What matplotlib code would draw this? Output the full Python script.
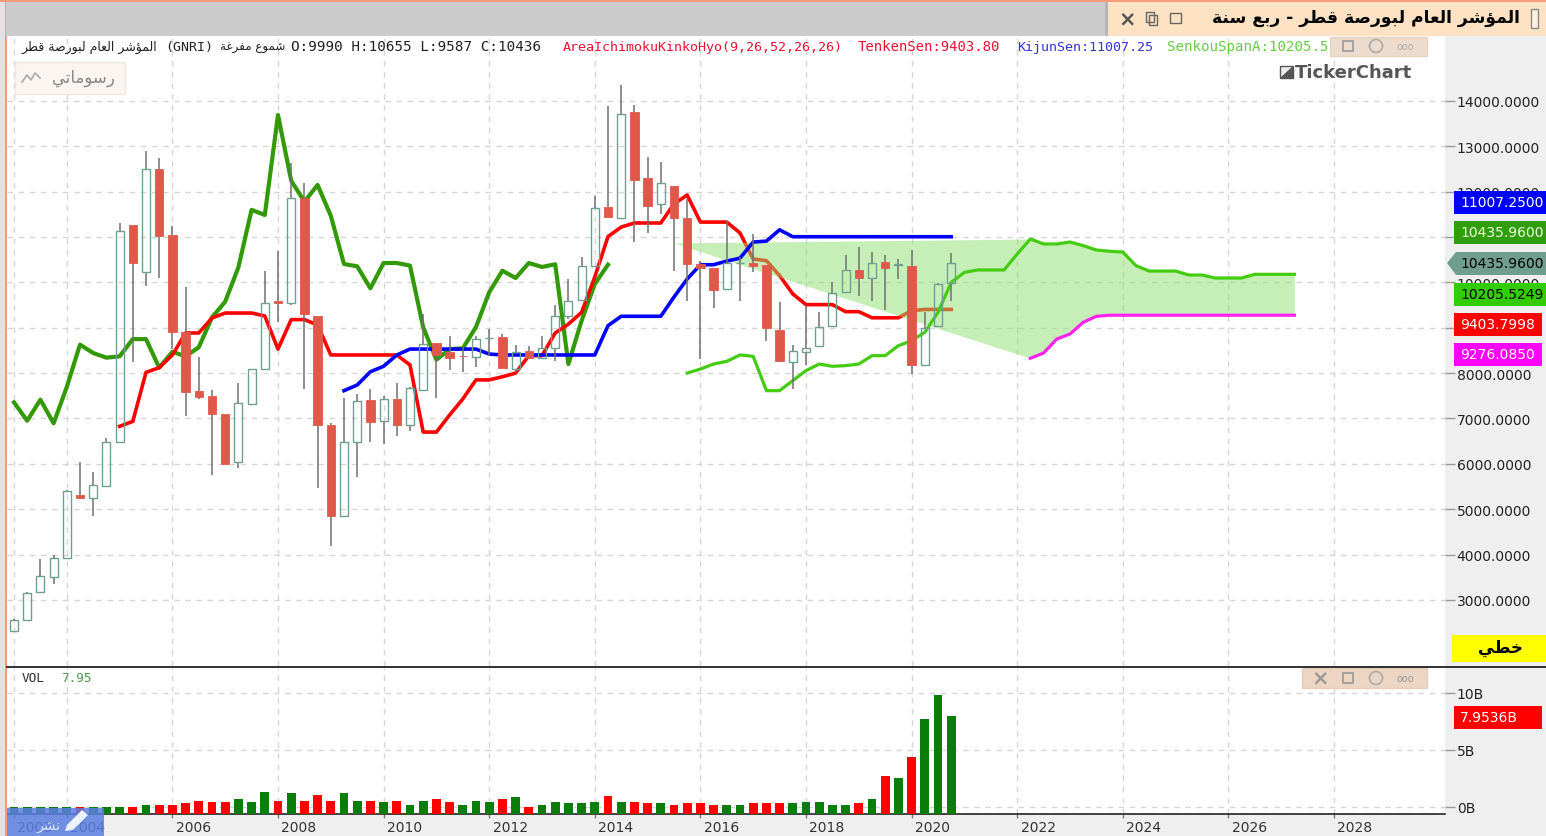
import numpy as np
import matplotlib
matplotlib.use('Agg')
import matplotlib.pyplot as plt
from matplotlib.patches import Rectangle, Circle, Polygon
from matplotlib.transforms import ScaledTranslation

W, H = 1546, 837

# quarterly candles, first one is Q1 2003
opens = [2316, 2560, 3180, 3510, 3925, 5312, 5240, 5510, 6480, 11272, 10236, 12500, 11045, 8913, 7600, 7500,
         7095, 6040, 7320, 8090, 9590, 9546, 11860, 9260, 6863, 4850, 6480, 7400, 6950, 7430, 6863, 7635,
         8660, 8465, 8380, 8355, 8780, 8790, 8090, 8487, 8330, 8555, 9260, 9610, 10370, 11670, 11430, 13757,
         12300, 11730, 12125, 11430, 10405, 10320, 9855, 10425, 10428, 10384, 8960, 8245, 8470, 8605, 9040,
         9790, 10270, 10100, 10450, 10390, 10370, 8180, 9045, 9990]
highs = [2570, 3170, 3900, 4000, 5430, 6040, 5820, 6570, 11310, 11272, 12904, 12743, 11250, 9900, 8360, 7635,
         7095, 7780, 8100, 10258, 10700, 12633, 12190, 9260, 6900, 7450, 7540, 7650, 7500, 7780, 7700, 9300,
         8660, 8825, 8570, 8825, 8970, 8860, 8620, 8605, 8825, 9510, 10075, 10560, 11910, 13890, 14350, 13910,
         12765, 12660, 12125, 11840, 10480, 10320, 11360, 10560, 11067, 10384, 9575, 8630, 9485, 9355, 10015,
         10600, 10775, 10680, 10600, 10515, 10715, 9345, 9980, 10655]
lows = [2300, 2550, 3170, 3350, 3920, 5240, 4850, 5500, 6480, 8245, 9928, 10090, 8530, 7060, 7430, 5760,
        5970, 5900, 7290, 8090, 9134, 9500, 7650, 5460, 4190, 4850, 5710, 6480, 6440, 6620, 6730, 7630,
        7450, 8075, 8020, 8130, 8380, 8110, 8020, 8320, 8320, 8270, 9200, 9600, 10360, 11440, 11430, 10890,
        11090, 11510, 10258, 9600, 8310, 9436, 9840, 9600, 10230, 8710, 8260, 7650, 8180, 8600, 9020,
        9780, 9707, 9600, 9400, 10075, 7980, 8160, 9040, 9587]
closes = [2560, 3155, 3530, 3925, 5400, 5246, 5540, 6480, 11133, 10428, 12500, 11030, 8913, 7590, 7480, 7095,
          5995, 7340, 8090, 9546, 9546, 11860, 9303, 6863, 4850, 6480, 7390, 6920, 7430, 6855, 7670, 8640,
          8400, 8340, 8375, 8750, 8785, 8120, 8470, 8330, 8555, 9260, 9590, 10370, 11640, 11450, 13713, 12258,
          11685, 12190, 11430, 10405, 10320, 9833, 10428, 10430, 10370, 8995, 8270, 8487, 8555, 9015, 9767,
          10270, 10095, 10428, 10325, 10395, 8180, 8995, 9965, 10436]

# ichimoku lines, each with the quarter it starts on
chikou_start = 0
chikou = [7355, 6950, 7414, 6893, 7694, 8627, 8443, 8340, 8370, 8750, 8750, 8120, 8470, 8370, 8570, 9230,
          9575, 10333, 11600, 11486, 13691, 12243, 11780, 12148, 11470, 10405, 10355, 9870, 10428, 10428,
          10370, 9010, 8296, 8530, 8546, 9016, 9782, 10258, 10097, 10428, 10340, 10400, 8200, 9156, 9965, 10390]
tenkan_start = 8
tenkan = [6827, 6935, 8017, 8120, 8400, 8885, 8885, 9215, 9325, 9325, 9325, 9260, 8530, 9180, 9180, 9060,
          8400, 8400, 8400, 8400, 8400, 8400, 8180, 6700, 6700, 7075, 7430, 7850, 7850, 7920, 8000, 8385,
          8385, 8885, 9080, 9340, 10120, 11010, 11220, 11310, 11310, 11310, 11730, 11927, 11330, 11330, 11330,
          11090, 10515, 10480, 10150, 9745, 9510, 9510, 9510, 9355, 9355, 9220, 9220, 9220, 9376, 9404, 9404, 9404]
kijun_start = 25
kijun = [7613, 7738, 8030, 8150, 8400, 8530, 8530, 8530, 8530, 8530, 8530, 8420, 8400, 8400, 8400, 8400,
         8400, 8400, 8400, 8400, 9046, 9253, 9253, 9253, 9253, 9678, 10075, 10390, 10390, 10470, 10535, 10890,
         10910, 11160, 11007, 11007, 11007, 11007, 11007, 11007, 11007, 11007, 11007, 11007, 11007, 11007, 11007]
span_a_start = 51
span_a = [8000, 8090, 8200, 8260, 8400, 8370, 7613, 7613, 7835, 8055, 8200, 8150, 8165, 8200, 8385, 8385,
          8605, 8715, 8900, 9340, 10000, 10222, 10274, 10274, 10274, 10626, 10957, 10847, 10847, 10890, 10810,
          10715, 10686, 10670, 10370, 10250, 10250, 10250, 10163, 10163, 10097, 10097, 10097, 10178, 10178,
          10178, 10178]
span_b_start = 77
span_b = [8327, 8443, 8752, 8862, 9120, 9253, 9276, 9276, 9276, 9276, 9276, 9276, 9276, 9276, 9276, 9276,
          9276, 9276, 9276, 9276, 9276]
# wedge of the cloud before the two spans are drawn
wedge_quarters = [50, 77]
wedge_upper = [10869, 10957]
wedge_lower = [10869, 8327]

# volume in billions
volume = [0, 0, 0, 0, 0, 0.03, 0, 0, 0.03, 0.03, 0.18, 0.18, 0.18, 0.32, 0.56, 0.41, 0.41, 0.70, 0.41, 1.35,
          0.56, 1.23, 0.56, 1.08, 0.56, 1.23, 0.56, 0.56, 0.41, 0.56, 0.18, 0.56, 0.70, 0.41, 0.18, 0.56, 0.41,
          0.70, 0.85, 0.03, 0.18, 0.41, 0.32, 0.32, 0.41, 0.96, 0.41, 0.41, 0.32, 0.32, 0.18, 0.32, 0.32, 0.18,
          0.18, 0.18, 0.32, 0.32, 0.32, 0.32, 0.41, 0.41, 0.18, 0.18, 0.32, 0.70, 2.69, 2.54, 4.42, 7.69, 9.82, 7.95]
vol_up = [1, 1, 1, 1, 1, 0, 1, 1, 1, 0, 1, 0, 0, 0, 0, 0, 0, 1, 1, 1, 0, 1, 0, 0, 0, 1, 1, 0, 1, 0, 1, 1, 0, 0,
          1, 1, 1, 0, 1, 0, 1, 1, 1, 1, 1, 0, 1, 0, 0, 1, 0, 0, 0, 0, 1, 1, 0, 0, 0, 1, 1, 1, 1, 1, 0, 1, 0, 1, 0,
          1, 1, 1]

year_ticks = [0, 4, 12, 20, 28, 36, 44, 52, 60, 68, 76, 84, 92, 100]
year_labels = ['2003', '2004', '2006', '2008', '2010', '2012', '2014', '2016', '2018', '2020', '2022', '2024',
               '2026', '2028']
price_ticks = [3000, 4000, 5000, 6000, 7000, 8000, 9000, 10000, 11000, 12000, 13000, 14000]
# 9000 and 11000 sit fully behind the value tags
price_labels = ['3000.0000', '4000.0000', '5000.0000', '6000.0000', '7000.0000', '8000.0000', '', '10000.0000', '',
                '12000.0000', '13000.0000', '14000.0000']
vol_ticks = [0, 5, 10]

# matplotlib has no arabic shaping, so pick the contextual forms by hand
FORMS = {'ا': (0xFE8D, 0xFE8E), 'ة': (0xFE93, 0xFE94), 'ر': (0xFEAD, 0xFEAE), 'و': (0xFEED, 0xFEEE),
         'ؤ': (0xFE85, 0xFE86), 'ب': (0xFE8F, 0xFE90, 0xFE91, 0xFE92), 'ت': (0xFE95, 0xFE96, 0xFE97, 0xFE98),
         'خ': (0xFEA5, 0xFEA6, 0xFEA7, 0xFEA8), 'س': (0xFEB1, 0xFEB2, 0xFEB3, 0xFEB4),
         'ش': (0xFEB5, 0xFEB6, 0xFEB7, 0xFEB8), 'ص': (0xFEB9, 0xFEBA, 0xFEBB, 0xFEBC),
         'ط': (0xFEC1, 0xFEC2, 0xFEC3, 0xFEC4), 'ع': (0xFEC9, 0xFECA, 0xFECB, 0xFECC),
         'غ': (0xFECD, 0xFECE, 0xFECF, 0xFED0), 'ف': (0xFED1, 0xFED2, 0xFED3, 0xFED4),
         'ق': (0xFED5, 0xFED6, 0xFED7, 0xFED8), 'ل': (0xFEDD, 0xFEDE, 0xFEDF, 0xFEE0),
         'م': (0xFEE1, 0xFEE2, 0xFEE3, 0xFEE4), 'ن': (0xFEE5, 0xFEE6, 0xFEE7, 0xFEE8),
         'ي': (0xFEF1, 0xFEF2, 0xFEF3, 0xFEF4)}


def arabic(text):
    out = []
    for k, ch in enumerate(text):
        if ch not in FORMS:
            out.append(ch)
            continue
        prev = text[k - 1] if k > 0 else ' '
        nxt = text[k + 1] if k + 1 < len(text) else ' '
        joins_prev = prev in FORMS and len(FORMS[prev]) == 4
        joins_next = nxt in FORMS and len(FORMS[ch]) == 4
        if joins_prev and joins_next:
            code = FORMS[ch][3]
        elif joins_next:
            code = FORMS[ch][2]
        elif joins_prev:
            code = FORMS[ch][1]
        else:
            code = FORMS[ch][0]
        out.append(chr(code))
    return ''.join(reversed(out))


def box(left, top, right, bottom):
    return [left / W, 1 - bottom / H, (right - left) / W, (bottom - top) / H]


def series_x(start, values):
    return np.arange(start, start + len(values))


GRID = dict(color='#d6d6d6', lw=1.0, dashes=(4, 4))

fig = plt.figure(figsize=(W / 100, H / 100), dpi=100, facecolor='#efefef')
ax = fig.add_axes(box(7, 37, 1445, 667))
vol = fig.add_axes(box(7, 669, 1445, 815))
for a in (ax, vol):
    a.set_xlim(-0.53, 108.41)
    a.set_xticks(year_ticks)
    a.set_axisbelow(True)
    a.grid(True, **GRID)
    a.yaxis.tick_right()
    for s in a.spines.values():
        s.set_visible(False)

# main pane
ax.set_ylim(1542, 15433)
ax.set_yticks(price_ticks)
ax.set_yticklabels(price_labels, fontsize=10, color='#222222')
ax.tick_params(axis='y', length=7, width=1, color='#999999', pad=1.5)
ax.tick_params(axis='x', length=0, labelbottom=False)

# only the tenkan line lies under the cloud tint
ax.plot(series_x(chikou_start, chikou), chikou, color='#339a07', lw=3.0, zorder=2, solid_joinstyle='round')
ax.plot(series_x(tenkan_start, tenkan), tenkan, color='#ff0000', lw=2.6, zorder=2, solid_joinstyle='round')
ax.plot(series_x(kijun_start, kijun), kijun, color='#0000ff', lw=2.6, zorder=3.5, solid_joinstyle='round')
ax.plot(series_x(span_a_start, span_a), span_a, color='#44cc11', lw=2.3, zorder=3.5)
ax.plot(series_x(span_b_start, span_b), span_b, color='#ff22ee', lw=2.3, zorder=3.5)

cloud = dict(color='#8fe070', alpha=0.5, lw=0, zorder=3)
ax.fill_between(wedge_quarters, wedge_lower, wedge_upper, **cloud)
a_part = span_a[span_b_start - span_a_start:]
ax.fill_between(series_x(span_b_start, span_b), span_b, a_part, **cloud)

# hollow candles
o, h, l, c = map(np.array, (opens, highs, lows, closes))
x = np.arange(len(o))
top = np.maximum(o, c)
bot = np.minimum(o, c)
ax.vlines(x, top, h, color='#707070', lw=1.1, zorder=4)
ax.vlines(x, l, bot, color='#707070', lw=1.1, zorder=4)
up = c >= o
ax.bar(x[~up], (top - bot)[~up], bottom=bot[~up], width=0.65, color='#e0584a', edgecolor='#e0584a', lw=0.6, zorder=5)
ax.bar(x[up], (top - bot)[up], bottom=bot[up], width=0.6, facecolor='none', edgecolor='#6f9f90', lw=1.0, zorder=5)

# volume pane
vol_floor = -0.614
vol.set_ylim(vol_floor, 12.19)
vol.set_yticks(vol_ticks)
vol.set_yticklabels([f'{v}B' for v in vol_ticks], fontsize=10, color='#222222')
vol.tick_params(axis='y', length=7, width=1, color='#999999', pad=1.5)
vol.spines['bottom'].set_visible(True)
vol.spines['bottom'].set_color('#222222')
vol.spines['bottom'].set_linewidth(1.2)
bar_colors = ['#0a7d0a' if u else '#ff0000' for u in vol_up]
vol.bar(np.arange(len(volume)), np.array(volume) - vol_floor, bottom=vol_floor, width=0.68, color=bar_colors, zorder=3)
vol.set_xticklabels(year_labels, fontsize=10, color='#333333')
vol.tick_params(axis='x', length=3, width=1, color='#777777', pad=1)
for lab in vol.get_xticklabels():
    lab.set_transform(lab.get_transform() + ScaledTranslation(0.21, 0, fig.dpi_scale_trans))

# window chrome, in pixel coordinates
ui = fig.add_axes([0, 0, 1, 1], zorder=10)
ui.set_xlim(0, W)
ui.set_ylim(H, 0)
ui.axis('off')


def rect(left, top, right, bottom, fc, ec='none', lw=0.0, alpha=None, z=1):
    ui.add_patch(Rectangle((left, top), right - left, bottom - top, facecolor=fc, edgecolor=ec, lw=lw, alpha=alpha, zorder=z))


def label(px, py, text, ha='left', z=5, **kw):
    ui.text(px, py, text, ha=ha, va='center', zorder=z, **kw)


rect(0, 0, 5, H, '#e2e2e2')
rect(5, 0, 7, H, '#f59a7a')
rect(6, 3, 1108, 37, '#cccccc')
rect(1108, 3, W, 37, '#fde3c3')
rect(1105, 3, 1108, 37, '#b5b5b5')
rect(0, 0, W, 3, '#f59a7a')
ui.plot([7, W], [668, 668], color='#222222', lw=1.3, zorder=2)

title = 'المؤشر العام لبورصة قطر - ربع سنة'
label(1520, 18, arabic(title), ha='right', fontsize=12.3, fontweight='bold', color='black')
rect(1531, 10, 1538, 29, '#fdf0e0', ec='#888888', lw=1)
ui.text(1127, 19, '×', ha='center', va='center', fontsize=15, fontweight='bold', color='#555555')
rect(1146, 13, 1154, 23, 'none', ec='#666666', lw=1)
rect(1149, 16, 1157, 26, 'none', ec='#666666', lw=1)
rect(1170, 14, 1181, 24, 'none', ec='#666666', lw=1)

# header line
mono = dict(family='DejaVu Sans Mono', fontsize=9.6)
label(157, 47, arabic('المؤشر العام لبورصة قطر'), ha='right', fontsize=9, color='#222222')
label(165, 47, '(GNRI)', color='#222222', **mono)
label(285, 47, arabic('شموع مفرغة'), ha='right', fontsize=8.6, color='#222222')
label(291, 47, 'O:9990 H:10655 L:9587 C:10436', color='#222222', family='DejaVu Sans Mono', fontsize=10.3)
label(563, 47, 'AreaIchimokuKinkoHyo(9,26,52,26,26)', color='#ee1133', **mono)
label(858, 47, 'TenkenSen:9403.80', color='#ee1133', family='DejaVu Sans Mono', fontsize=10.1)
label(1017, 47, 'KijunSen:11007.25', color='#3333dd', **mono)
label(1167, 47, 'SenkouSpanA:10205.5', color='#66cc44', family='DejaVu Sans Mono', fontsize=10.2)

# pane controls
rect(1330, 38, 1427, 57, '#eddccd', ec='#e6d2c0', lw=1)
rect(1343, 42, 1353, 52, 'none', ec='#999999', lw=1.2, z=2)
ui.add_patch(Circle((1376, 47), 6.5, facecolor='none', edgecolor='#aaaaaa', lw=1.2, zorder=2))
label(1405, 47, 'ooo', ha='center', fontsize=7, color='#aaaaaa')
rect(1302, 669, 1427, 689, '#ecd5c2', ec='#e6cdb8', lw=1)
label(1320, 678, '×', ha='center', fontsize=15, fontweight='bold', color='#999999')
rect(1343, 674, 1353, 684, 'none', ec='#999999', lw=1.2, z=2)
ui.add_patch(Circle((1376, 679), 6.5, facecolor='none', edgecolor='#aaaaaa', lw=1.2, zorder=2))
label(1405, 679, 'ooo', ha='center', fontsize=7, color='#999999')

rect(15, 63, 125, 95, '#faf5f0', ec='#efe8e0', lw=1)
ui.plot([22, 27, 31, 35, 40], [83, 76, 81, 74, 79], color='#aaaaaa', lw=1.2, zorder=2)
label(115, 78, arabic('رسوماتي'), ha='right', fontsize=12, color='#888888')

rect(1280, 67, 1293, 79, '#eeeeee', ec='#555555', lw=1)
ui.add_patch(Polygon([(1280, 79), (1293, 79), (1293, 67)], facecolor='#555555', zorder=2))
label(1295, 73, 'TickerChart', fontsize=13, fontweight='bold', family='DejaVu Sans', color='#555555')

label(22, 679, 'VOL', color='#333333', family='DejaVu Sans Mono', fontsize=9.2)
label(61, 679, '7.95', color='#4a9a4a', family='DejaVu Sans Mono', fontsize=9.2)

# value tags on the price scale
tags = [(203, '11007.2500', '#0000ff', 'white', 1546), (233, '10435.9600', '#2f9e0a', '#f0ffe0', 1546),
        (295, '10205.5249', '#33cc00', 'black', 1546), (325, '9403.7998', '#ff0000', 'white', 1542),
        (355, '9276.0850', '#ff00ff', 'white', 1542), (718, '7.9536B', '#ff0000', 'white', 1542)]
for ty, txt, fc, tc, right in tags:
    rect(1454, ty - 11.5, right, ty + 11.5, fc, z=3)
    label(1460, ty, txt, fontsize=10, color=tc)
ui.add_patch(Polygon([(1447, 264), (1456, 253), (W, 253), (W, 276), (1456, 276)], facecolor='#6f9e8e', zorder=3))
label(1460, 264, '10435.9600', fontsize=10, color='black')
rect(1452, 636, W, 663, '#ffff00', z=3)
label(1500, 648, arabic('خطي'), ha='center', fontsize=12, fontweight='bold', color='black')

# share button over the lower left corner
rect(7, 809, 104, H, '#5b7ee0', alpha=0.86, z=6)
label(49, 826, arabic('نشر'), ha='center', fontsize=10, color='#dfe6fb', z=7)
ui.add_patch(Polygon([(65, 832), (67, 826), (82, 811), (88, 816), (73, 831)], facecolor='#eef2fd', zorder=7))

plt.savefig('out.png', dpi=100, facecolor=fig.get_facecolor())
